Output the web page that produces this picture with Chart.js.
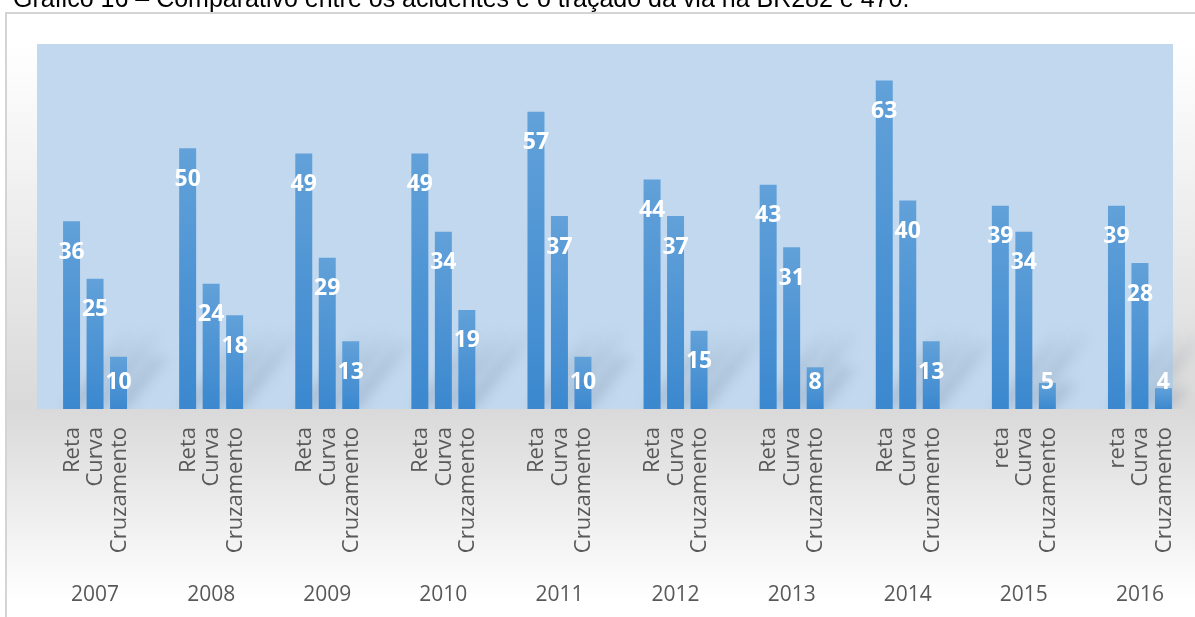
<!DOCTYPE html>
<html lang="pt">
<head>
<meta charset="utf-8">
<title>Acidentes x traçado da via - BR282 e 470</title>
<script src="https://cdn.jsdelivr.net/npm/chart.js@4.4.1/dist/chart.umd.min.js"></script>
<style>
    html, body { margin: 0; padding: 0; overflow: hidden; background: #ffffff; }
    canvas { display: block; }
</style>
</head>
<body>
<canvas id="myChart" width="1210" height="617"></canvas>
<script>
// Dados
const titulo = "Gráfico 16 – Comparativo entre os acidentes e o traçado da via na BR282 e 470."
const anos = ["2007", "2008", "2009", "2010", "2011", "2012", "2013", "2014", "2015", "2016"]
const reta = [36, 50, 49, 49, 57, 44, 43, 63, 39, 39]
const curva = [25, 24, 29, 34, 37, 37, 31, 40, 34, 28]
const cruzamento = [10, 18, 13, 19, 10, 15, 8, 13, 5, 4]
const rotulosReta = ["Reta", "Reta", "Reta", "Reta", "Reta", "Reta", "Reta", "Reta", "reta", "reta"]
const rotulosCurva = ["Curva", "Curva", "Curva", "Curva", "Curva", "Curva", "Curva", "Curva", "Curva", "Curva"]
const rotulosCruzamento = ["Cruzamento", "Cruzamento", "Cruzamento", "Cruzamento", "Cruzamento",
    "Cruzamento", "Cruzamento", "Cruzamento", "Cruzamento", "Cruzamento"]

// Estilo
const corFundoParede = "#c1d8ee"
const corTexto = "#595959"
const fonte = "'Open Sans', 'Noto Sans', sans-serif"
const limiteParede = 1173

// Degradê de cada barra, do topo até a base
function corBarra(context) {
    const chart = context.chart
    const { ctx, chartArea, scales } = chart
    if (!chartArea || !scales.y || context.type !== "data") {
        return "#4a92d4"
    }
    const topo = scales.y.getPixelForValue(context.raw)
    const base = scales.y.getPixelForValue(0)
    const grad = ctx.createLinearGradient(0, topo, 0, base)
    grad.addColorStop(0, "#62a1d9")
    grad.addColorStop(1, "#3b88cf")
    return grad
}

// Fundo, moldura, parede azul e título
const fundo = {
    id: "fundo",
    beforeDraw(chart) {
        const { ctx, chartArea, width, height } = chart
        ctx.save()
        ctx.fillStyle = "#ffffff"
        ctx.fillRect(0, 0, width, height)

        const y0 = 13
        const faixa = height - y0
        const grad = ctx.createLinearGradient(0, y0, 0, height)
        grad.addColorStop(0, "#ffffff")
        grad.addColorStop((chartArea.top - y0) / faixa, "#ffffff")
        grad.addColorStop((chartArea.bottom - y0) / faixa, "#d9d9d9")
        grad.addColorStop((600 - y0) / faixa, "#ffffff")
        grad.addColorStop(1, "#ffffff")
        ctx.fillStyle = grad
        ctx.fillRect(7, y0, width, height)

        ctx.strokeStyle = "#d4d4d4"
        ctx.lineWidth = 2
        ctx.strokeRect(6, y0, width + 10, height + 10)

        ctx.fillStyle = corFundoParede
        ctx.fillRect(chartArea.left, chartArea.top, limiteParede - chartArea.left, chartArea.height)

        ctx.fillStyle = "#000000"
        ctx.font = "25px 'Liberation Sans', Arial, sans-serif"
        ctx.textAlign = "left"
        ctx.textBaseline = "alphabetic"
        ctx.fillText(titulo, 13, 7)
        ctx.restore()
    }
}

// Sombras inclinadas atrás das barras
const sombras = {
    id: "sombras",
    beforeDatasetsDraw(chart) {
        const { ctx, chartArea } = chart
        ctx.save()
        ctx.beginPath()
        ctx.rect(0, chartArea.top, chart.width, chartArea.height)
        ctx.clip()
        ctx.filter = "blur(6px)"
        chart.data.datasets.forEach((ds, i) => {
            chart.getDatasetMeta(i).data.forEach(barra => {
                const h = barra.base - barra.y
                const alcance = Math.min(h, 80)
                const meia = barra.width / 2
                const x0 = barra.x - meia
                const x1 = barra.x + meia
                const dx = alcance * 0.8
                const dy = alcance
                const grad = ctx.createLinearGradient(barra.x, barra.base, barra.x + 64, barra.base - 80)
                grad.addColorStop(0, "rgba(80, 95, 120, 0.22)")
                grad.addColorStop(0.6, "rgba(80, 95, 120, 0.15)")
                grad.addColorStop(1, "rgba(80, 95, 120, 0)")
                ctx.fillStyle = grad
                ctx.beginPath()
                ctx.moveTo(x0, barra.base)
                ctx.lineTo(x1, barra.base)
                ctx.lineTo(x1 + dx, barra.base - dy)
                ctx.lineTo(x0 + dx, barra.base - dy)
                ctx.closePath()
                ctx.fill()
            })
        })
        ctx.restore()
    }
}

// Valores em branco dentro das barras e rótulos verticais de cada tipo de via
const rotulos = {
    id: "rotulos",
    afterDatasetsDraw(chart) {
        const { ctx } = chart
        const nomes = [rotulosReta, rotulosCurva, rotulosCruzamento]
        ctx.save()
        chart.data.datasets.forEach((ds, i) => {
            chart.getDatasetMeta(i).data.forEach((barra, j) => {
                const y = Math.min(barra.y + 31, barra.base - 27)
                ctx.fillStyle = "#ffffff"
                ctx.font = "bold 23px " + fonte
                ctx.textAlign = "center"
                ctx.textBaseline = "middle"
                ctx.fillText(String(ds.data[j]), barra.x, y)

                ctx.save()
                ctx.translate(barra.x, barra.base + 18)
                ctx.rotate(-Math.PI / 2)
                ctx.fillStyle = corTexto
                ctx.font = "22px " + fonte
                ctx.textAlign = "right"
                ctx.textBaseline = "middle"
                ctx.fillText(nomes[i][j], 0, 1)
                ctx.restore()
            })
        })
        ctx.restore()
    }
}

function configurarGrafico() {
    const config = {
        type: "bar",
        data: {
            labels: anos,
            datasets: [
                { label: "Reta", data: reta, backgroundColor: corBarra },
                { label: "Curva", data: curva, backgroundColor: corBarra },
                { label: "Cruzamento", data: cruzamento, backgroundColor: corBarra }
            ]
        },
        options: {
            responsive: false,
            animation: false,
            events: [],
            categoryPercentage: 0.607,
            barPercentage: 0.723,
            layout: { padding: { left: 37, right: 12, top: 44, bottom: 0 } },
            plugins: {
                legend: { display: false },
                tooltip: { enabled: false }
            },
            scales: {
                x: {
                    grid: { display: false, drawTicks: false },
                    border: { display: false },
                    ticks: {
                        color: corTexto,
                        font: { family: fonte, size: 21 },
                        padding: 173,
                        maxRotation: 0,
                        autoSkip: false
                    },
                    afterFit(scale) {
                        // o espaçamento grande dos anos não deve encolher a área do gráfico
                        scale.height = 208
                        scale.paddingLeft = 0
                        scale.paddingRight = 0
                    }
                },
                y: {
                    display: false,
                    min: 0,
                    max: 70
                }
            }
        },
        plugins: [fundo, sombras, rotulos]
    }
    return config
}

const myChart = new Chart(document.querySelector("#myChart"), configurarGrafico())
</script>
</body>
</html>
